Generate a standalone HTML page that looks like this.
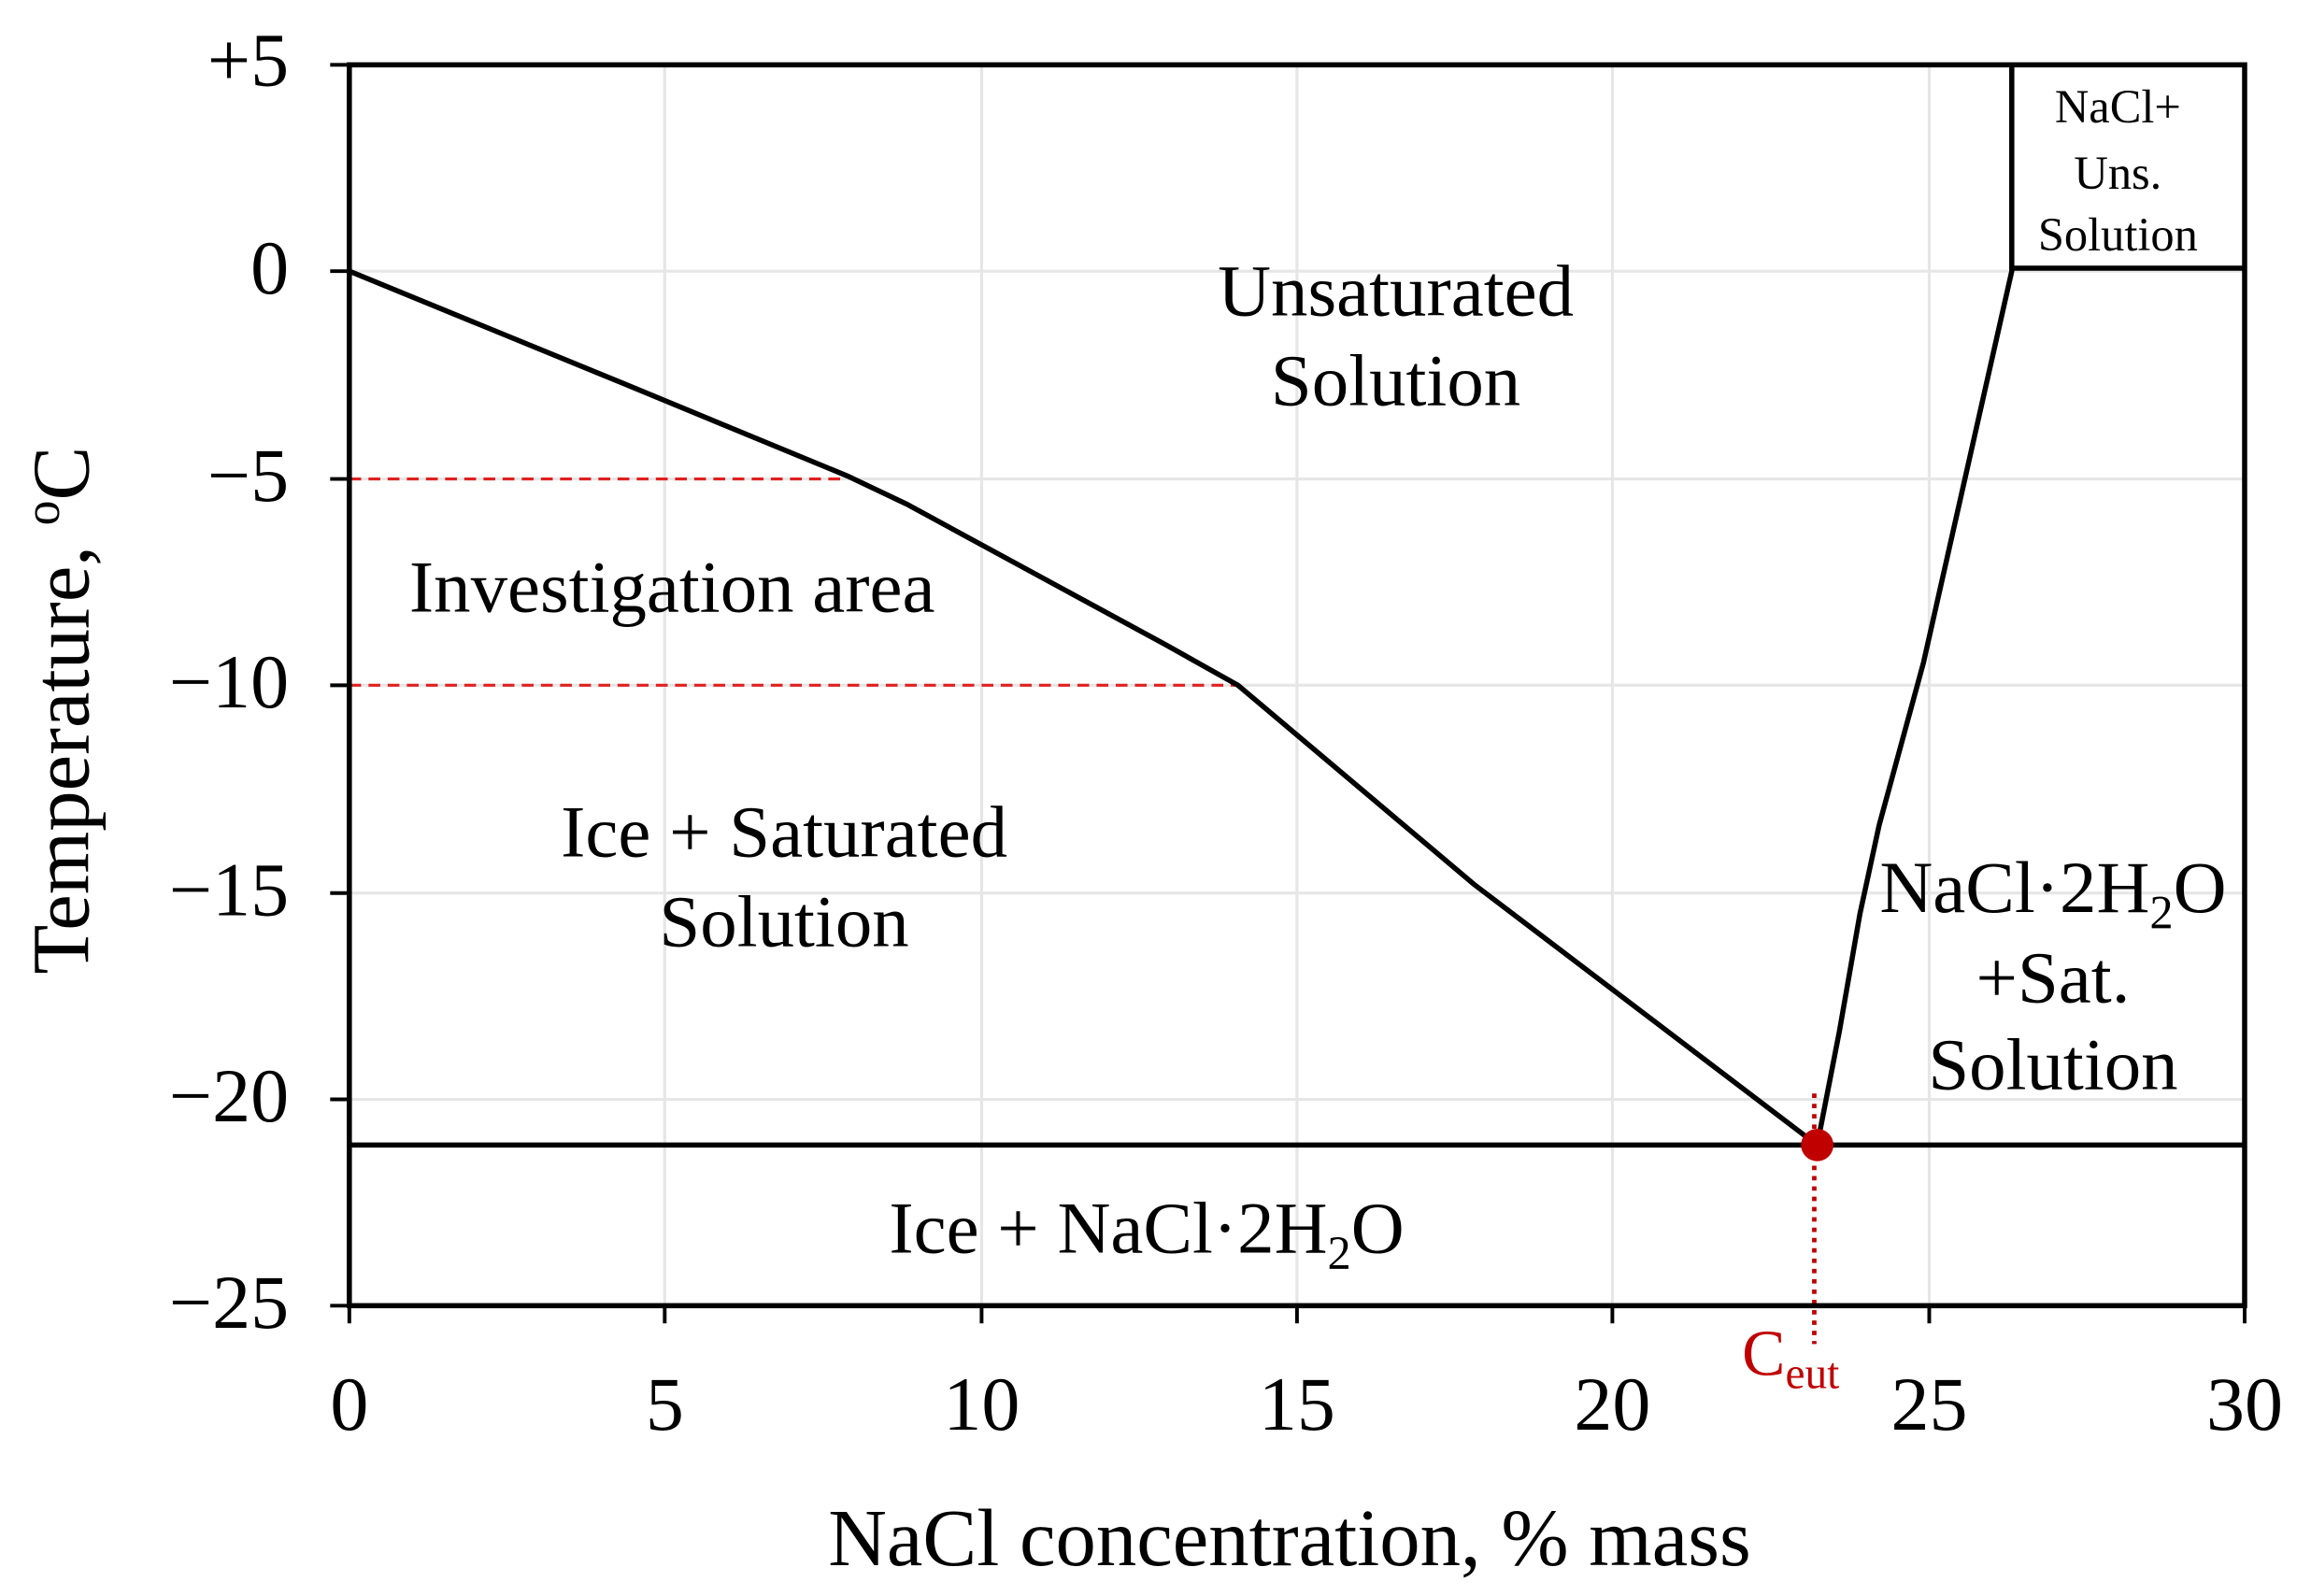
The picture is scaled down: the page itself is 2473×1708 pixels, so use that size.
<!DOCTYPE html>
<html><head><meta charset="utf-8"><style>html,body{margin:0;padding:0;background:#fff}svg{display:block}</style></head>
<body>
<svg width="2473" height="1708" viewBox="0 0 1568 1083" xmlns="http://www.w3.org/2000/svg" font-family="'Liberation Serif', serif">
<rect width="1568" height="1083" fill="#fff"/>
<g stroke="#e6e6e6" stroke-width="2">
<line x1="451" y1="44" x2="451" y2="886"/><line x1="666" y1="44" x2="666" y2="886"/><line x1="880" y1="44" x2="880" y2="886"/><line x1="1094" y1="44" x2="1094" y2="886"/><line x1="1309" y1="44" x2="1309" y2="886"/>
<line x1="237" y1="184" x2="1523" y2="184"/><line x1="237" y1="325" x2="1523" y2="325"/><line x1="237" y1="465" x2="1523" y2="465"/><line x1="237" y1="606" x2="1523" y2="606"/><line x1="237" y1="746" x2="1523" y2="746"/>
</g>
<g stroke="#e02020" stroke-width="2" stroke-dasharray="8,5" fill="none">
<line x1="237" y1="325" x2="575" y2="325"/><line x1="237" y1="465" x2="840" y2="465"/>
</g>
<line x1="1231" y1="742" x2="1231" y2="912" stroke="#c00000" stroke-width="3" stroke-dasharray="3,4"/>
<g stroke="#000" fill="none" stroke-width="3.5">
<rect x="237" y="44" width="1286" height="842"/>
<line x1="237" y1="777" x2="1523" y2="777"/>
<polyline points="237,184 420,259 575,323 615,342 790,437 840,465 1000,600 1233,777"/>
<polyline points="1233,777 1248,700 1262,620 1275,560 1305,450 1365,184 1365,44"/>
<line x1="1365" y1="182" x2="1523" y2="182"/>
</g>
<g stroke="#000" stroke-width="2.5">
<line x1="224" y1="44" x2="237" y2="44"/><line x1="224" y1="184" x2="237" y2="184"/><line x1="224" y1="325" x2="237" y2="325"/><line x1="224" y1="465" x2="237" y2="465"/><line x1="224" y1="606" x2="237" y2="606"/><line x1="224" y1="746" x2="237" y2="746"/><line x1="224" y1="886" x2="237" y2="886"/>
<line x1="237" y1="886" x2="237" y2="898"/><line x1="451" y1="886" x2="451" y2="898"/><line x1="666" y1="886" x2="666" y2="898"/><line x1="880" y1="886" x2="880" y2="898"/><line x1="1094" y1="886" x2="1094" y2="898"/><line x1="1309" y1="886" x2="1309" y2="898"/><line x1="1523" y1="886" x2="1523" y2="898"/>
</g>
<circle cx="1233" cy="777" r="11" fill="#c00000"/>
<g font-size="52" fill="#000" text-anchor="end">
<text x="196" y="58">+5</text><text x="196" y="199">0</text><text x="196" y="340">−5</text><text x="196" y="480">−10</text><text x="196" y="621">−15</text><text x="196" y="761">−20</text><text x="196" y="901">−25</text>
</g>
<g font-size="52" fill="#000" text-anchor="middle">
<text x="237" y="970">0</text><text x="451" y="970">5</text><text x="666" y="970">10</text><text x="880" y="970">15</text><text x="1094" y="970">20</text><text x="1309" y="970">25</text><text x="1523" y="970">30</text>
</g>
<g font-size="55" fill="#000" text-anchor="middle">
<text x="875" y="1062">NaCl concentration, % mass</text>
<text transform="translate(60,482) rotate(-90)">Temperature, <tspan font-size="34" dy="-20">o</tspan><tspan dy="20">C</tspan></text>
</g>
<g font-size="50" fill="#000" text-anchor="middle">
<text x="947" y="214">Unsaturated</text><text x="947" y="275">Solution</text>
<text x="456" y="415">Investigation area</text>
<text x="532" y="581">Ice + Saturated</text><text x="532" y="642">Solution</text>
<text x="778" y="850">Ice + NaCl·2H<tspan font-size="32" dy="11">2</tspan><tspan dy="-11">O</tspan></text>
<text x="1393" y="619">NaCl·2H<tspan font-size="32" dy="11">2</tspan><tspan dy="-11">O</tspan></text>
<text x="1393" y="680">+Sat.</text><text x="1393" y="739">Solution</text>
</g>
<g font-size="32" fill="#000" text-anchor="middle">
<text x="1437" y="83">NaCl+</text><text x="1437" y="128">Uns.</text><text x="1437" y="170">Solution</text>
</g>
<text x="1182" y="933" font-size="44" fill="#c00000">C<tspan font-size="30" dy="9">eut</tspan></text>
</svg>
</body></html>
